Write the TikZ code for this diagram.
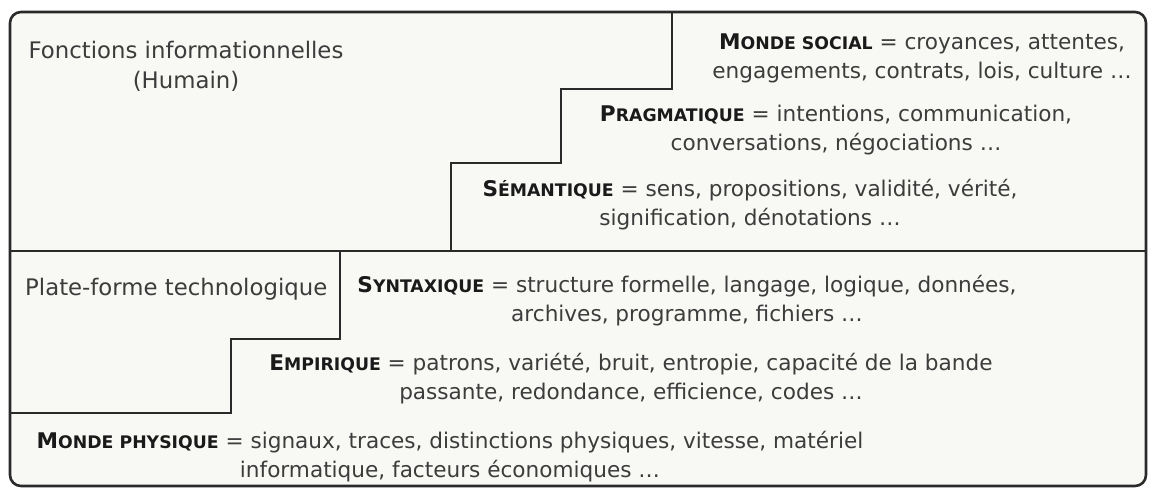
\documentclass[tikz,border=0pt]{standalone}
\usepackage{fontspec}
\setmainfont{DejaVu Sans}
\definecolor{panel}{HTML}{F8F8F5}
\definecolor{rule}{HTML}{2A2A2A}
\definecolor{ink}{HTML}{3C3C3C}
\definecolor{inkbold}{HTML}{1A1A1A}
% bold small capitals built from a large initial and reduced capitals
\newcommand\kap[2]{{\bfseries\color{inkbold}#1{\fontsize{17.3pt}{20pt}\selectfont #2}}}
\tikzset{
  frame/.style={draw=rule, line width=2.6pt, fill=panel, rounded corners=11pt},
  stair/.style={draw=rule, line width=2.6pt, line join=miter},
  level/.style={inner sep=0pt, align=center, text=ink, anchor=base,
    font=\fontsize{21.6pt}{29pt}\selectfont},
  title/.style={inner sep=0pt, align=center, text=ink, anchor=base,
    font=\fontsize{22.8pt}{30pt}\selectfont},
}
\begin{document}
\begin{tikzpicture}[x=1pt, y=-1pt]
  \useasboundingbox (0,0) rectangle (1149,489);
  \fill[white] (0,0) rectangle (1149,489);
  % outer frame and the boundary between the two halves
  \draw[frame] (10,12) rectangle (1146,486);
  \coordinate (midL) at (10,251);
  \coordinate (midR) at (1146,251);
  \draw[stair] (midL) -- (midR);
  % upper staircase
  \coordinate (u0) at (672,12);
  \coordinate (u1) at (451,251);
  \draw[stair] (u0) |- (561,89) |- (451,163) -- (u1);
  % lower staircase
  \coordinate (l0) at (340,251);
  \coordinate (l1) at (10,413);
  \draw[stair] (l0) |- (231,339) |- (l1);

  % area titles (base anchor sits on the last line)
  \node[title] (human) at (186,89) {Fonctions informationnelles\\(Humain)};
  \node[title, anchor=base west] (tech) at (25,295) {Plate-forme technologique};

  % levels
  \node[level] (social) at (922,79)
    {\kap{M}{ONDE SOCIAL} = croyances, attentes,\\engagements, contrats, lois, culture \dots};
  \node[level] (prag) at (836,151)
    {\kap{P}{RAGMATIQUE} = intentions, communication,\\conversations, négociations \dots};
  \node[level] (sem) at (750,226)
    {\kap{S}{ÉMANTIQUE} = sens, propositions, validité, vérité,\\signification, dénotations \dots};
  \node[level] (syn) at (687,321)
    {\kap{S}{YNTAXIQUE} = structure formelle, langage, logique, données,\\archives, programme, fichiers \dots};
  \node[level] (emp) at (631,399)
    {\kap{E}{MPIRIQUE} = patrons, variété, bruit, entropie, capacité de la bande\\passante, redondance, efficience, codes \dots};
  \node[level] (phys) at (450,477)
    {\kap{M}{ONDE PHYSIQUE} = signaux, traces, distinctions physiques, vitesse, matériel\\informatique, facteurs économiques \dots};
\end{tikzpicture}
\end{document}
